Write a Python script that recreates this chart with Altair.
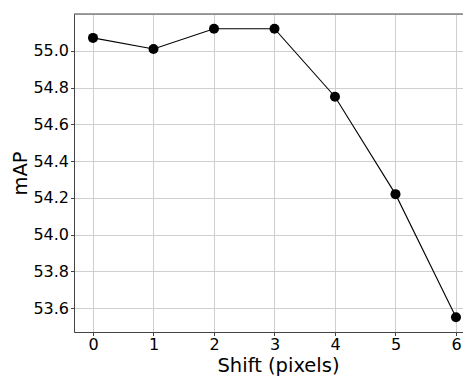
import altair as alt
import pandas as pd

shift = [0, 1, 2, 3, 4, 5, 6]
mAP = [55.07, 55.01, 55.12, 55.12, 54.75, 54.22, 53.55]
y_ticks = [53.6, 53.8, 54.0, 54.2, 54.4, 54.6, 54.8, 55.0]

df = pd.DataFrame({"shift": shift, "mAP": mAP})

FONT = "DejaVu Sans"
AXC = "#444444"
GRID = "#cfcfcf"
W, H = 389, 318

x = alt.X("shift:Q", scale=alt.Scale(domain=[-0.314, 6.116], nice=False, zero=False),
          axis=alt.Axis(values=shift, title="Shift (pixels)", format="d",
                        titleFontSize=19.5, titleFont=FONT, titleFontWeight="normal",
                        titleColor="black", titlePadding=4, titleX=204,
                        labelFontSize=16, labelFont=FONT, labelColor="black",
                        labelPadding=1, tickSize=3.5, tickColor=AXC, domainColor=AXC,
                        gridColor=GRID, labelFlush=False))
y = alt.Y("mAP:Q", scale=alt.Scale(domain=[53.47, 55.2], nice=False, zero=False),
          axis=alt.Axis(values=y_ticks, format=".1f", title="mAP",
                        titleFontSize=19.5, titleFont=FONT, titleFontWeight="normal",
                        titleColor="black", titlePadding=2,
                        labelFontSize=16, labelFont=FONT, labelColor="black",
                        labelPadding=2, tickSize=3.5, tickColor=AXC, domainColor=AXC,
                        gridColor=GRID))

base = alt.Chart(df).encode(x=x, y=y)
line = base.mark_line(color="black", strokeWidth=1.1)
pts = base.mark_point(filled=True, color="black", size=100, opacity=1)
top = alt.Chart(pd.DataFrame({"k": [0]})).mark_rule(color=AXC, strokeWidth=1).encode(
    x=alt.value(0), x2=alt.value(W), y=alt.value(0))

chart = (line + pts + top).properties(
    width=W, height=H,
    autosize=alt.AutoSizeParams(type="none"),
    padding={"left": 66, "top": 6, "right": 0, "bottom": 45},
).configure_view(stroke=None).configure(background="white")

chart.save("out.html", embed_options={"renderer": "svg", "actions": False})
